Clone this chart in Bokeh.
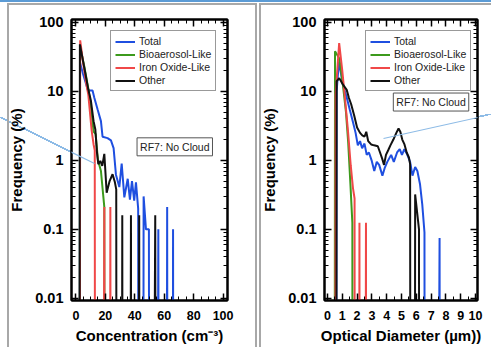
import numpy as np
from bokeh.plotting import figure
from bokeh.layouts import row
from bokeh.models import (LinearAxis, LogAxis, FixedTicker, SingleIntervalTicker,
                          CustomJSTickFormatter, Legend, LegendItem, Label, Range1d, Arrow)
from bokeh.embed import file_html
from bokeh.resources import INLINE

# ---------------- data: left panel (Concentration, cm^-3) ----------------
total_conc_x = [1.0, 2.8, 4.8, 6.8, 8.2, 11.3, 12.5, 14.7, 17.0, 18.1, 21.5, 23.8, 25.6, 27.2, 29.5, 31.1,
                32.9, 35.2, 36.7, 38.1, 39.6, 40.8, 42.3, 44.0, 46.0, 47.6, 49.6, 51.5, 56.0, 59.0,
                62.0, 64.0, 66.0, 68.0]
total_conc_y = [0, 26, 18, 13, 10.3, 10.3, 8.1, 5.5, 3.7, 2.2, 2.1, 1.95, 1.5, 0.62, 0.41, 0.9,
                0.29, 0.54, 0.27, 0.5, 0.26, 0.48, 0.2, 0, 0.3, 0.1, 0.1, 0, 0.1, 0,
                0.21, 0, 0.1, 0]

bio_conc_x = [1.0, 2.8, 5.7, 8.4, 10.2, 12.0, 13.4, 15.0, 17.0, 19.3, 21.0]
bio_conc_y = [0, 45, 23, 11, 6.0, 2.6, 2.4, 1.0, 0.7, 0.21, 0]

iron_conc_x = [1.0, 2.9, 5.0, 7.0, 8.4, 10.7, 12.0, 12.8, 14.5, 19.3, 21.3, 23.4, 25.0]
iron_conc_y = [0, 55, 25, 13, 9, 2.7, 1.7, 1.4, 0, 0.21, 0, 0.21, 0]

other_conc_x = [1.0, 2.7, 5.7, 8.4, 10.2, 12.0, 13.2, 14.3, 15.2, 16.6, 17.9, 19.3, 20.9, 22.9,
                24.9, 26.5, 27.4, 29.0, 31.5, 33.5, 37.4, 39.5, 43.0, 45.0, 53.9, 56.0]
other_conc_y = [0, 48, 22, 10.7, 7.3, 3.7, 2.8, 1.3, 0.88, 0.98, 0.83, 1.24, 0.34, 0.5,
                0.63, 0.48, 0.38, 0, 0.16, 0, 0.16, 0, 0.16, 0, 0.16, 0]

# ---------------- data: right panel (Optical Diameter, um) ----------------
total_diam_x = [0.45, 0.62, 0.77, 1.06, 1.28, 1.5, 1.72, 1.9, 2.05, 2.2, 2.34, 2.5, 2.65, 2.8, 2.98,
                3.16, 3.33, 3.49, 3.71, 3.86, 4.04, 4.3, 4.48, 4.7, 4.88, 5.03, 5.19, 5.36, 5.58,
                5.74, 5.92, 6.07, 6.25, 6.4, 6.55, 6.7, 7.57, 7.75]
total_diam_y = [0, 10, 27, 12, 8.5, 5.5, 3.6, 2.5, 1.65, 1.9, 1.5, 1.75, 1.2, 1.3, 1.0,
                0.7, 0.95, 0.86, 0.6, 0.77, 0.95, 1.2, 0.95, 1.3, 1.45, 1.2, 1.45, 1.25, 0.95,
                0.6, 0.8, 0.7, 0.45, 0.23, 0.09, 0, 0.075, 0]

bio_diam_x = [0.35, 0.51, 0.8, 1.05, 1.25, 1.4, 1.55, 1.68, 1.8]
bio_diam_y = [0, 38, 30, 12, 5, 1.8, 0.45, 0.125, 0]

iron_diam_x = [0.4, 0.55, 0.79, 1.0, 1.17, 1.39, 1.57, 1.72, 1.83, 1.95, 2.16, 2.3, 2.6, 2.75]
iron_diam_y = [0, 9, 50, 20, 8.5, 2.6, 0.85, 0.4, 0.28, 0, 0.125, 0, 0.125, 0]

other_diam_x = [0.45, 0.62, 0.8, 1.05, 1.3, 1.45, 1.6, 1.8, 2.0, 2.2, 2.35, 2.5, 2.62, 2.75, 2.95,
                3.15, 3.4, 3.55, 3.7, 3.82, 3.95, 4.1, 4.25, 4.45, 4.65, 4.8, 4.92, 5.05, 5.2,
                5.35, 5.5, 5.58, 5.75, 5.92, 6.18, 6.3]
other_diam_y = [0, 14, 15.5, 12.5, 10.5, 8, 6.5, 4.5, 3.0, 2.5, 2.3, 2.2, 2.6, 1.9, 1.7,
                1.65, 1.6, 1.3, 1.05, 0.86, 1.2, 1.4, 1.65, 2.0, 2.5, 2.9, 2.6, 2.0, 1.7,
                1.3, 1.1, 0.88, 0, 0.32, 0.1, 0]

series_names = ["Total", "Bioaerosol-Like", "Iron Oxide-Like", "Other"]
series_colors = ["#1f4fe0", "#3c9a1c", "#f04848", "#111111"]

y_major = [0.01, 0.1, 1, 10, 100]
y_tick_labels = ["0.01", "0.1", "1", "10", "100"]

FLOOR = 1e-40  # zero frequency -> line drops straight off the bottom of the log axis
FONT = "Liberation Sans"
PANEL_GRAY = "#a8a8a8"
CALLOUT_BLUE = "#8dbbe6"
TOP_BLUE = "#5b9bd5"


def floor_zero(v):
    a = np.asarray(v, dtype=float)
    return np.where(a > 0, a, FLOOR)


def solid(c):
    return f"linear-gradient({c}, {c})"


def diag(direction, c):
    return (f"linear-gradient({direction}, transparent calc(50% - 0.9px), {c} calc(50% - 0.9px), "
            f"{c} calc(50% + 0.9px), transparent calc(50% + 0.9px))")


def css_background(layers):
    return {"background-image": ", ".join(l[0] for l in layers),
            "background-position": ", ".join(l[1] for l in layers),
            "background-size": ", ".join(l[2] for l in layers),
            "background-repeat": "no-repeat",
            "background-color": "white"}


def make_panel(xs, ys, width, x_range, x_interval, x_minor, x_title, legend_loc, rf7_xy,
               min_left, min_right):
    p = figure(width=width, height=347,
               min_border_left=min_left, min_border_right=min_right,
               min_border_top=19, min_border_bottom=47,
               x_range=Range1d(*x_range), y_range=Range1d(0.0093, 110),
               y_axis_type="log", output_backend="svg", toolbar_location=None)
    p.xgrid.visible = False
    p.ygrid.visible = False
    p.outline_line_color = "black"
    p.outline_line_width = 2
    p.background_fill_color = "white"
    p.border_fill_alpha = 0

    renderers = []
    for x, y, c in zip(xs, ys, series_colors):
        r = p.line(x, floor_zero(y), line_color=c, line_width=2)
        renderers.append(r)

    minor = [m * 10.0 ** e for e in range(-3, 3) for m in range(2, 10)]
    yt = FixedTicker(ticks=y_major, minor_ticks=minor)
    xt = SingleIntervalTicker(interval=x_interval, num_minor_ticks=x_minor)
    fmt = CustomJSTickFormatter(args=dict(vals=y_major, labs=y_tick_labels), code="""
        for (let i = 0; i < vals.length; i++) {
            if (Math.abs(Math.log10(tick) - Math.log10(vals[i])) < 1e-6) return labs[i];
        }
        return '';
    """)
    blank = CustomJSTickFormatter(code="return '';")

    def style(ax, labels=True):
        ax.axis_line_color = "black"
        ax.axis_line_width = 2
        ax.major_tick_in = 7
        ax.major_tick_out = 0
        ax.minor_tick_in = 4
        ax.minor_tick_out = 0
        ax.major_tick_line_color = "black"
        ax.major_tick_line_width = 1.5
        ax.minor_tick_line_color = "black"
        ax.minor_tick_line_width = 1
        if not labels:
            ax.formatter = blank
            ax.major_label_standoff = 0
            ax.major_label_text_font_size = "8px"

    ya = p.yaxis[0]
    ya.ticker = yt
    ya.formatter = fmt
    style(ya)
    ya.major_label_text_font = FONT
    ya.major_label_text_font_style = "bold"
    ya.major_label_text_font_size = "14.5px"
    ya.major_label_text_color = "black"
    ya.major_label_standoff = 8
    ya.axis_label = "Frequency (%)"
    ya.axis_label_text_font = FONT
    ya.axis_label_text_font_style = "bold"
    ya.axis_label_text_font_size = "15px"
    ya.axis_label_text_color = "black"
    ya.axis_label_standoff = 7

    xa = p.xaxis[0]
    xa.ticker = xt
    style(xa)
    xa.major_label_text_font = FONT
    xa.major_label_text_font_style = "bold"
    xa.major_label_text_font_size = "12.5px"
    xa.major_label_text_color = "black"
    xa.major_label_standoff = 10
    xa.axis_label = x_title
    xa.axis_label_text_font = FONT
    xa.axis_label_text_font_style = "bold"
    xa.axis_label_text_font_size = "15px"
    xa.axis_label_text_color = "black"
    xa.axis_label_standoff = 4

    top = LinearAxis(ticker=SingleIntervalTicker(interval=x_interval, num_minor_ticks=x_minor))
    style(top, labels=False)
    p.add_layout(top, "above")
    right = LogAxis(ticker=FixedTicker(ticks=y_major, minor_ticks=minor))
    style(right, labels=False)
    p.add_layout(right, "right")

    legend = Legend(items=[LegendItem(label=n, renderers=[r]) for n, r in zip(series_names, renderers)],
                    location=legend_loc, label_text_font=FONT, label_text_font_size="10.5px",
                    label_text_color="#222222", glyph_width=20, glyph_height=11, label_height=11,
                    label_standoff=4, spacing=1, padding=4, margin=0,
                    border_line_color="#333333", border_line_width=1,
                    background_fill_color="white", background_fill_alpha=1)
    p.add_layout(legend)

    p.add_layout(Label(x=rf7_xy[0], y=rf7_xy[1], text="RF7: No Cloud", text_align="right",
                       text_baseline="middle", text_font=FONT, text_font_size="10.5px",
                       text_color="#222222", border_line_color="#555555", border_line_width=1,
                       background_fill_color="white", padding=3))
    return p


p1 = make_panel([total_conc_x, bio_conc_x, iron_conc_x, other_conc_x],
                [total_conc_y, bio_conc_y, iron_conc_y, other_conc_y], 258,
                (-3, 103), 20, 4, "Concentration (cm\u207b\u00b3)", (39, 209), (92.8, 1.57),
                71, 31)
p2 = make_panel([total_diam_x, bio_diam_x, iron_diam_x, other_diam_x],
                [total_diam_y, bio_diam_y, iron_diam_y, other_diam_y], 233,
                (-0.2, 10.13), 1, 2, "Optical Diameter (\u00b5m))", (41, 209), (9.54, 7.0),
                63, 14)

# slide decorations around the two panels (page pixels): panel frames, top rule, call-outs
p1.styles = css_background([
    (solid(TOP_BLUE), "0px 0px", "100% 2px"),
    (solid(PANEL_GRAY), "7px 3px", "2px 100%"),
    (solid(PANEL_GRAY), "7px 3px", "250px 2px"),
    (solid(PANEL_GRAY), "255px 3px", "2px 100%"),
    (diag("to top right", CALLOUT_BLUE), "0px 117px", "94px 46px"),
])
p2.styles = css_background([
    (solid(TOP_BLUE), "0px 0px", "100% 2px"),
    (solid(PANEL_GRAY), "1px 3px", "2px 100%"),
    (solid(PANEL_GRAY), "1px 3px", "100% 2px"),
    (diag("to bottom right", CALLOUT_BLUE), "125px 114px", "108px 24px"),
])
# the parts of the call-outs that cross the plotting frames
p1.add_layout(Arrow(end=None, x_start=0, y_start=117, x_end=94, y_end=163,
                    start_units="canvas", end_units="canvas",
                    line_color=CALLOUT_BLUE, line_width=1.2))
p2.add_layout(Arrow(end=None, x_start=125, y_start=138, x_end=233, y_end=114,
                    start_units="canvas", end_units="canvas",
                    line_color=CALLOUT_BLUE, line_width=1.2))

layout = row(p1, p2)
open("out.html", "w").write(file_html(layout, INLINE))
